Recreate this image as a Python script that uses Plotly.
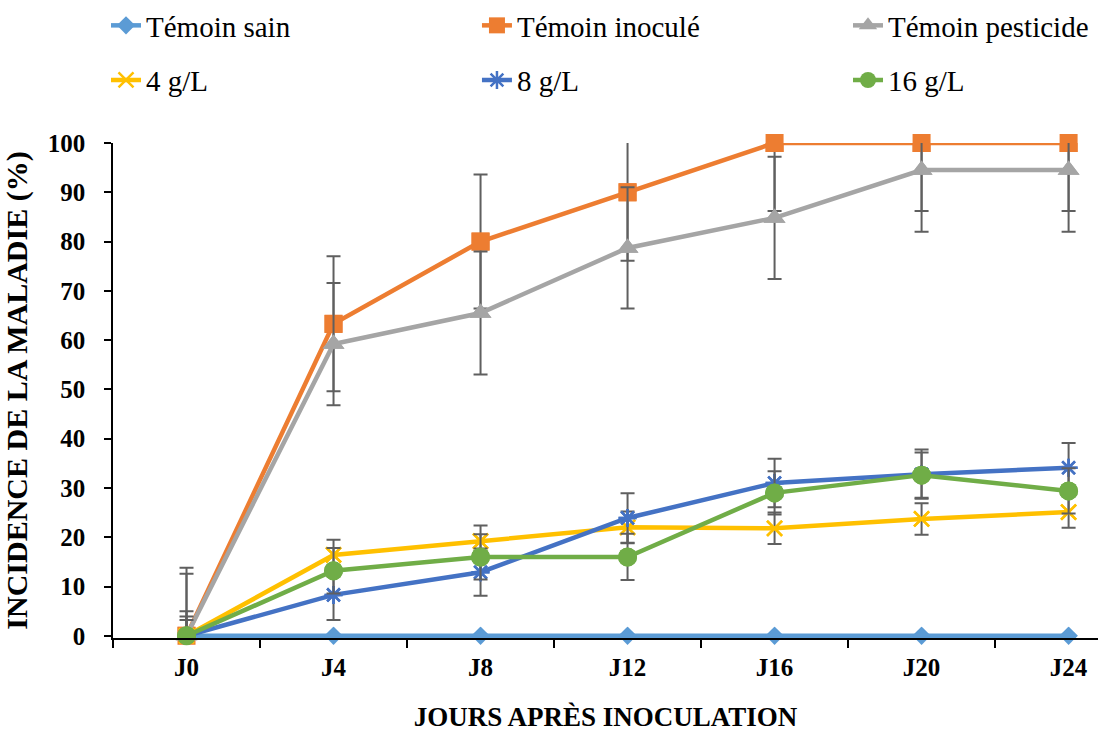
import plotly.graph_objects as go

# Days after inoculation
jours = ["J0", "J4", "J8", "J12", "J16", "J20", "J24"]

# Disease incidence (%) per treatment
temoin_sain = [0, 0, 0, 0, 0, 0, 0]
temoin_inocule = [0, 63.3, 80, 90, 100, 100, 100]
temoin_pesticide = [0, 59.2, 65.5, 78.7, 84.8, 94.5, 94.5]
dose_4 = [0, 16.4, 19.2, 22.0, 21.8, 23.7, 25.1]
dose_8 = [0, 8.3, 12.9, 23.9, 31.0, 32.8, 34.1]
dose_16 = [0, 13.2, 16.0, 16.0, 29.0, 32.6, 29.4]

# Error bar half-widths
err_sain = [0, 0, 0, 0, 0, 0, 0]
err_inocule = [13.8, 13.7, 13.6, 13.9, 13.8, 13.8, 13.8]
err_pesticide = [12.6, 12.4, 12.5, 12.3, 12.4, 12.5, 12.5]
err_4 = [3.2, 3.1, 3.2, 3.2, 3.2, 3.2, 3.2]
err_8 = [5.0, 5.1, 4.8, 5.0, 4.9, 5.0, 5.0]
err_16 = [3.9, 4.6, 4.6, 4.7, 4.4, 4.6, 4.6]

# name, values, errors, colour, marker symbol, marker size, legend slot
series = [
    ("Témoin sain", temoin_sain, err_sain, "#5B9BD5", "diamond", 14, "legend"),
    ("Témoin inoculé", temoin_inocule, err_inocule, "#ED7D31", "square", 18, "legend2"),
    ("Témoin pesticide", temoin_pesticide, err_pesticide, "#A5A5A5", "triangle-up", 19, "legend3"),
    ("4 g/L", dose_4, err_4, "#FFC000", "x-thin-open", 15, "legend4"),
    ("8 g/L", dose_8, err_8, "#4472C4", "asterisk-open", 15, "legend5"),
    ("16 g/L", dose_16, err_16, "#70AD47", "circle", 19, "legend6"),
]

fig = go.Figure()
for name, vals, err, color, symbol, size, leg in series:
    open_sym = symbol.endswith("open")
    marker = dict(
        symbol=symbol,
        size=size,
        color=color,
        line=dict(color=color, width=2.5 if open_sym else 0),
    )
    # line + error bars, clipped to the plotting area
    fig.add_trace(go.Scatter(
        x=jours, y=vals, name=name, mode="lines+markers",
        line=dict(color=color, width=4.5),
        marker=marker,
        error_y=dict(type="data", array=err, visible=True,
                     color="#5F5F5F", thickness=2, width=7),
        cliponaxis=True, legend=leg, hoverinfo="skip",
    ))
    # markers drawn on top without clipping (values at 0 and 100)
    fig.add_trace(go.Scatter(
        x=jours, y=vals, mode="markers", marker=marker,
        cliponaxis=False, showlegend=False, hoverinfo="skip",
    ))

serif = "Liberation Serif"


def legend_at(x, y):
    return dict(
        x=x, y=y,
        xanchor="left", yanchor="middle",
        orientation="h",
        font=dict(family=serif, size=29, color="black"),
        itemwidth=30,
        bgcolor="rgba(0,0,0,0)",
        itemclick=False,
        itemdoubleclick=False,
    )


col_x = [-0.0071, 0.3695, 0.7462]
row_y = [1.238, 1.127]

fig.update_layout(
    width=1098,
    height=734,
    margin=dict(l=113, r=0, t=143, b=96),
    paper_bgcolor="white",
    plot_bgcolor="white",
    font=dict(family=serif, color="black"),
    showlegend=True,
    legend=legend_at(col_x[0], row_y[0]),
    legend2=legend_at(col_x[1], row_y[0]),
    legend3=legend_at(col_x[2], row_y[0]),
    legend4=legend_at(col_x[0], row_y[1]),
    legend5=legend_at(col_x[1], row_y[1]),
    legend6=legend_at(col_x[2], row_y[1]),
    xaxis=dict(
        type="category",
        categoryorder="array",
        categoryarray=jours,
        range=[-0.5, 6.2],
        showline=True, linecolor="black", linewidth=1.5,
        ticks="outside", tickson="boundaries", ticklen=8,
        tickcolor="black", tickwidth=1.5,
        showgrid=False, zeroline=False,
        tickfont=dict(family=serif, size=25, color="black", weight="bold"),
        ticklabelstandoff=6,
        title=dict(text="JOURS APRÈS INOCULATION",
                   font=dict(family=serif, size=27, color="black", weight="bold"),
                   standoff=27),
    ),
    yaxis=dict(
        range=[-0.45, 100],
        tickvals=[0, 10, 20, 30, 40, 50, 60, 70, 80, 90, 100],
        showline=True, linecolor="black", linewidth=1.5,
        ticks="outside", ticklen=7, tickcolor="black", tickwidth=1.5,
        showgrid=False, zeroline=False,
        tickfont=dict(family=serif, size=25, color="black", weight="bold"),
        ticklabelstandoff=14,
        title=dict(text="INCIDENCE DE LA MALADIE (%)",
                   font=dict(family=serif, size=30, color="black", weight="bold"),
                   standoff=12),
    ),
)

fig.write_html("out.html")
